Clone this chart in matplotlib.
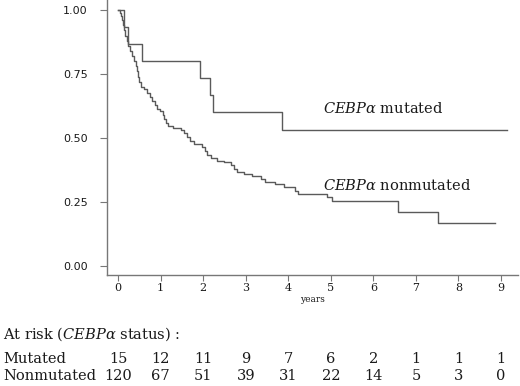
import matplotlib
matplotlib.use("Agg")
import matplotlib.pyplot as plt
import matplotlib.transforms as mtransforms

# ---- data ----
mut_times = [0.0, 0.14, 0.24, 0.57, 1.92, 2.17, 2.22, 3.85, 9.15]
mut_surv = [1.0, 0.933, 0.867, 0.800, 0.733, 0.667, 0.600, 0.533, 0.533]

non_times = [0.0, 0.05, 0.08, 0.10, 0.12, 0.14, 0.17, 0.20, 0.24, 0.28, 0.32,
             0.37, 0.41, 0.44, 0.47, 0.50, 0.55, 0.62, 0.68, 0.74, 0.80, 0.86,
             0.92, 0.98, 1.05, 1.08, 1.12, 1.18, 1.30, 1.48, 1.55, 1.62, 1.70,
             1.78, 1.98, 2.05, 2.10, 2.18, 2.32, 2.50, 2.65, 2.72, 2.80, 2.95,
             3.15, 3.35, 3.45, 3.70, 3.90, 4.15, 4.22, 4.90, 5.02, 6.59, 7.52,
             8.86]
non_surv = [1.0, 0.99, 0.975, 0.96, 0.94, 0.92, 0.90, 0.88, 0.86, 0.84, 0.82,
            0.80, 0.78, 0.76, 0.74, 0.72, 0.70, 0.69, 0.675, 0.66, 0.645, 0.63,
            0.615, 0.605, 0.59, 0.575, 0.56, 0.548, 0.54, 0.53, 0.52, 0.505, 0.49,
            0.478, 0.466, 0.45, 0.435, 0.422, 0.412, 0.405, 0.395, 0.38, 0.368, 0.36,
            0.35, 0.34, 0.33, 0.32, 0.31, 0.295, 0.28, 0.27, 0.255, 0.21, 0.17,
            0.17]

x_ticks = [0, 1, 2, 3, 4, 5, 6, 7, 8, 9]
y_ticks = [0.00, 0.25, 0.50, 0.75, 1.00]
y_tick_labels = ["0.00", "0.25", "0.50", "0.75", "1.00"]

risk_times = [0, 1, 2, 3, 4, 5, 6, 7, 8, 9]
risk_mutated = [15, 12, 11, 9, 7, 6, 2, 1, 1, 1]
risk_nonmutated = [120, 67, 51, 39, 31, 22, 14, 5, 3, 0]

# ---- figure ----
plt.rcParams["mathtext.fontset"] = "dejavuserif"
line_col = "#5a5a5a"
text_col = "#1a1a1a"

fig = plt.figure(figsize=(5.2, 3.86), dpi=100)
ax = fig.add_axes([107 / 520, 1 - 275 / 386, (518 - 107) / 520, 275 / 386])

ax.step(mut_times, mut_surv, where="post", color=line_col, lw=1.0)
ax.step(non_times, non_surv, where="post", color=line_col, lw=1.0)

ax.set_xlim(-0.26, 9.40)
ax.set_ylim(-0.035, 1.039)

for s in ["top", "right"]:
    ax.spines[s].set_visible(False)
for s in ["left", "bottom"]:
    ax.spines[s].set_color("#777777")
    ax.spines[s].set_linewidth(1.0)

ax.set_xticks(x_ticks)
ax.set_xticklabels([str(t) for t in x_ticks], family="DejaVu Serif", fontsize=8, color=text_col)
ax.set_yticks(y_ticks)
ax.set_yticklabels(y_tick_labels, family="DejaVu Sans", fontsize=8, color=text_col)
ax.tick_params(axis="y", length=5, width=0.8, color="#777777", pad=9)
ax.tick_params(axis="x", length=4, width=0.8, color="#777777", pad=2)

ax.set_xlabel("years", family="DejaVu Serif", fontsize=6.5, labelpad=1, color=text_col)

ax.text(4.82, 0.617, r"$\mathit{CEBP}\alpha$ mutated", family="DejaVu Serif",
        fontsize=10.5, va="center", ha="left", color=text_col)
ax.text(4.82, 0.316, r"$\mathit{CEBP}\alpha$ nonmutated", family="DejaVu Serif",
        fontsize=10.5, va="center", ha="left", color=text_col)

# ---- at-risk table ----
fs = 10.5
fig.text(3 / 520, 1 - 334 / 386, r"At risk ($\mathit{CEBP}\alpha$ status) :",
         family="DejaVu Serif", fontsize=fs, va="center", ha="left", color=text_col)
row_y = [1 - 359 / 386, 1 - 376 / 386]
fig.text(3 / 520, row_y[0], "Mutated", family="DejaVu Serif", fontsize=fs,
         va="center", ha="left", color=text_col)
fig.text(3 / 520, row_y[1], "Nonmutated", family="DejaVu Serif", fontsize=fs,
         va="center", ha="left", color=text_col)
trans = mtransforms.blended_transform_factory(ax.transData, fig.transFigure)
for t, m, n in zip(risk_times, risk_mutated, risk_nonmutated):
    ax.text(t, row_y[0], str(m), transform=trans, family="DejaVu Serif", fontsize=fs,
            va="center", ha="center", color=text_col, clip_on=False)
    ax.text(t, row_y[1], str(n), transform=trans, family="DejaVu Serif", fontsize=fs,
            va="center", ha="center", color=text_col, clip_on=False)

fig.savefig("out.png", dpi=100)
